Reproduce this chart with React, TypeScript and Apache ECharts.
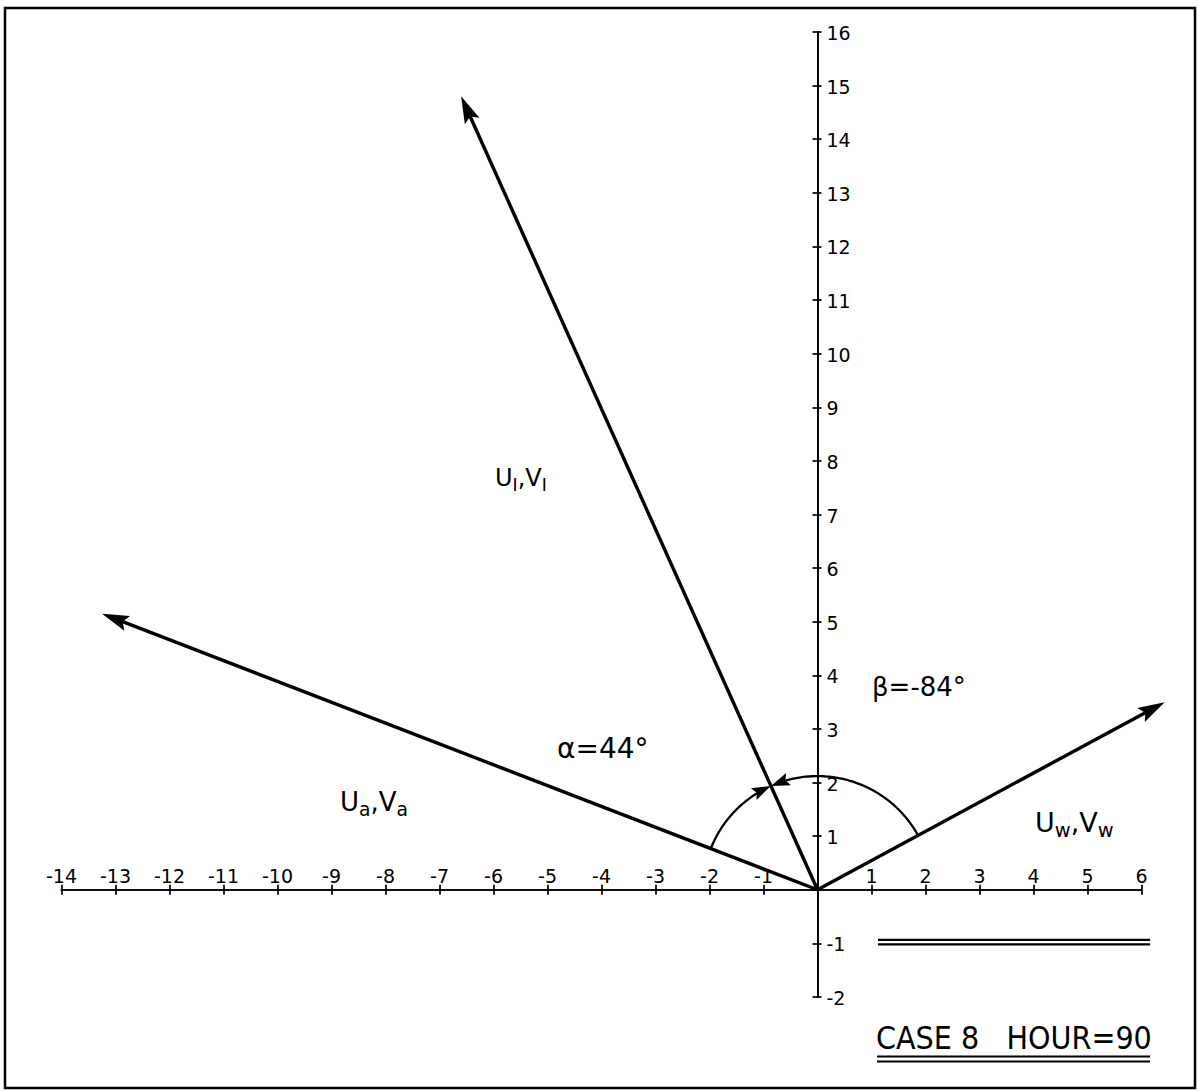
import React, { useEffect, useRef } from "react";
import * as echarts from "echarts";

// ---- data ----
const xMin = -14;
const xMax = 6;
const yMin = -2;
const yMax = 16;
const xTickLabels = ["-14", "-13", "-12", "-11", "-10", "-9", "-8", "-7", "-6", "-5", "-4", "-3", "-2", "-1", "", "1", "2", "3", "4", "5", "6"];
const yTickLabels = ["-2", "-1", "", "1", "2", "3", "4", "5", "6", "7", "8", "9", "10", "11", "12", "13", "14", "15", "16"];

const vectorNames = ["Ua,Va", "UI,VI", "Uw,Vw"];
const vectorU = [-13.25, -6.6, 6.43];
const vectorV = [5.15, 14.8, 3.5];
const arcRadius = [2.12];
const angleLabels = ["α=44°", "β=-84°"];
const refLineX = [1.12, 6.16];
const refLineY = [-1];
const caseTitle = "CASE 8   HOUR=90";

const FONT = "'DejaVu Sans', 'Liberation Sans', sans-serif";

function arrowHead(tip: number[], ux: number, uy: number, L: number, W: number) {
  const nx = -uy;
  const ny = ux;
  const bx = tip[0] - ux * L;
  const by = tip[1] - uy * L;
  const notch = [tip[0] - ux * L * 0.82, tip[1] - uy * L * 0.82];
  return {
    notch,
    poly: {
      type: "polygon",
      shape: { points: [tip, [bx + nx * W, by + ny * W], notch, [bx - nx * W, by - ny * W]] },
      style: { fill: "#000" },
    },
  };
}

function subLabel(main1: string, sub1: string, main2: string, sub2: string, x: number, y: number, size: number) {
  return {
    type: "text",
    x,
    y,
    style: {
      text: `{m|${main1}}{s|${sub1}}{m|${main2}}{s|${sub2}}`,
      verticalAlign: "middle",
      align: "left",
      rich: {
        m: { fontSize: size, fontFamily: FONT, lineHeight: size * 1.3, fill: "#000", verticalAlign: "middle" },
        s: { fontSize: size * 0.72, fontFamily: FONT, lineHeight: size * 0.78, fill: "#000", verticalAlign: "bottom" },
      },
    },
  };
}

export default function App() {
  const ref = useRef<HTMLDivElement>(null);

  useEffect(() => {
    if (!ref.current) return;
    const chart = echarts.init(ref.current, undefined, { renderer: "svg" });

    const angA = Math.atan2(vectorV[0], vectorU[0]);
    const angI = Math.atan2(vectorV[1], vectorU[1]);
    const angW = Math.atan2(vectorV[2], vectorU[2]);

    const axisLineStyle = { color: "#000", width: 1.7 };
    const tickStyle = { color: "#000", width: 1.7 };

    const baseCustom = {
      type: "custom",
      coordinateSystem: "cartesian2d",
      xAxisIndex: 0,
      yAxisIndex: 0,
      clip: false,
      encode: { x: 0, y: 1 },
    };

    const option: any = {
      animation: false,
      backgroundColor: "#fff",
      grid: { left: 61.5, width: 1080, top: 32, height: 965, containLabel: false },
      xAxis: [
        {
          type: "value", min: xMin, max: xMax, interval: 1, position: "bottom",
          axisLine: { onZero: true, onZeroAxisIndex: 0, lineStyle: axisLineStyle },
          axisTick: { show: true, length: 5, lineStyle: tickStyle },
          axisLabel: { show: false },
          splitLine: { show: false },
        },
        {
          type: "value", min: xMin, max: xMax, interval: 1, position: "top",
          axisLine: { onZero: true, onZeroAxisIndex: 1, lineStyle: axisLineStyle },
          axisTick: { show: true, length: 5, lineStyle: tickStyle },
          axisLabel: { show: false },
          splitLine: { show: false },
        },
      ],
      yAxis: [
        {
          type: "value", min: yMin, max: yMax, interval: 1, position: "left",
          axisLine: { onZero: true, onZeroAxisIndex: 0, lineStyle: axisLineStyle },
          axisTick: { show: true, length: 5, lineStyle: tickStyle },
          axisLabel: { show: false },
          splitLine: { show: false },
        },
        {
          type: "value", min: yMin, max: yMax, interval: 1, position: "right",
          axisLine: { onZero: true, onZeroAxisIndex: 1, lineStyle: axisLineStyle },
          axisTick: { show: true, length: 4, lineStyle: tickStyle },
          axisLabel: { show: false },
          splitLine: { show: false },
        },
      ],
      series: [
        {
          ...baseCustom,
          name: "xLabels",
          data: xTickLabels.map((_l, i) => [xMin + i, 0, i]),
          renderItem: (_p: any, api: any) => {
            const p = api.coord([api.value(0), api.value(1)]);
            const label = xTickLabels[api.value(2)];
            return {
              type: "text",
              x: p[0],
              y: p[1] - 14,
              style: { text: label, font: `19px ${FONT}`, fill: "#000", align: "center", verticalAlign: "middle" },
            };
          },
        },
        {
          ...baseCustom,
          name: "yLabels",
          data: yTickLabels.map((_l, i) => [0, yMin + i, i]),
          renderItem: (_p: any, api: any) => {
            const p = api.coord([api.value(0), api.value(1)]);
            const label = yTickLabels[api.value(2)];
            return {
              type: "text",
              x: p[0] + 9,
              y: p[1] + 1,
              style: { text: label, font: `19px ${FONT}`, fill: "#000", align: "left", verticalAlign: "middle" },
            };
          },
        },
        {
          ...baseCustom,
          name: "vectors",
          data: vectorU.map((u, i) => [u, vectorV[i], i]),
          renderItem: (_p: any, api: any) => {
            const o = api.coord([0, 0]);
            const t = api.coord([api.value(0), api.value(1)]);
            const dx = t[0] - o[0];
            const dy = t[1] - o[1];
            const len = Math.hypot(dx, dy);
            const ux = dx / len;
            const uy = dy / len;
            const ah = arrowHead(t, ux, uy, 27, 8);
            return {
              type: "group",
              children: [
                { type: "line", shape: { x1: o[0], y1: o[1], x2: ah.notch[0], y2: ah.notch[1] }, style: { stroke: "#000", lineWidth: 3.4 } },
                ah.poly,
              ],
            };
          },
        },
        {
          ...baseCustom,
          name: "angles",
          data: arcRadius.map((r) => [0, 0, r]),
          renderItem: (_p: any, api: any) => {
            const r = api.value(2);
            const makeArc = (from: number, to: number) => {
              const n = 80;
              const pts: number[][] = [];
              for (let k = 0; k <= n; k++) {
                const a = from + ((to - from) * k) / n;
                pts.push(api.coord([r * Math.cos(a), r * Math.sin(a)]));
              }
              const tip = pts[pts.length - 1];
              const prev = pts[pts.length - 6];
              const dx = tip[0] - prev[0];
              const dy = tip[1] - prev[1];
              const len = Math.hypot(dx, dy);
              const ah = arrowHead(tip, dx / len, dy / len, 19, 6.5);
              const body = pts.filter((p) => Math.hypot(p[0] - tip[0], p[1] - tip[1]) > 15);
              body.push(ah.notch);
              return [
                { type: "polyline", shape: { points: body }, style: { stroke: "#000", lineWidth: 2.3, fill: null } },
                ah.poly,
              ];
            };
            return {
              type: "group",
              children: [...makeArc(angA, angI), ...makeArc(angW, angI)],
            };
          },
        },
        {
          ...baseCustom,
          name: "refline",
          data: refLineY.map((y) => [refLineX[0], y, refLineX[1]]),
          renderItem: (_p: any, api: any) => {
            const a = api.coord([api.value(0), api.value(1)]);
            const b = api.coord([api.value(2), api.value(1)]);
            return {
              type: "group",
              children: [
                { type: "line", shape: { x1: a[0], y1: a[1] - 3.5, x2: b[0], y2: b[1] - 3.5 }, style: { stroke: "#000", lineWidth: 2.2 } },
                { type: "line", shape: { x1: a[0], y1: a[1] + 1, x2: b[0], y2: b[1] + 1 }, style: { stroke: "#000", lineWidth: 2.2 } },
              ],
            };
          },
        },
      ],
      graphic: [
        { type: "rect", shape: { x: 5, y: 8, width: 1190, height: 1080 }, style: { fill: "none", stroke: "#000", lineWidth: 2.5 }, silent: true },
        subLabel("U", "a", ",V", "a", 340, 802, 26),
        subLabel("U", "I", ",V", "I", 495, 478, 24),
        subLabel("U", "w", ",V", "w", 1035, 822, 27),
        { type: "text", x: 557, y: 748, style: { text: angleLabels[0], font: `28px ${FONT}`, fill: "#000", align: "left", verticalAlign: "middle" } },
        { type: "text", x: 872, y: 687, style: { text: angleLabels[1], font: `26px ${FONT}`, fill: "#000", align: "left", verticalAlign: "middle" } },
        { type: "text", x: 876, y: 1038, scaleX: 0.895, style: { text: caseTitle, font: `32px ${FONT}`, fill: "#000", align: "left", verticalAlign: "middle" } },
        { type: "line", shape: { x1: 877, y1: 1056.5, x2: 1150, y2: 1056.5 }, style: { stroke: "#000", lineWidth: 2 } },
        { type: "line", shape: { x1: 877, y1: 1061.5, x2: 1150, y2: 1061.5 }, style: { stroke: "#000", lineWidth: 2 } },
      ],
    };

    chart.setOption(option);
    return () => chart.dispose();
  }, []);

  return (
    <div
      ref={ref}
      style={{ position: "absolute", left: 0, top: 0, width: 1198, height: 1091, background: "#fff" }}
    />
  );
}
